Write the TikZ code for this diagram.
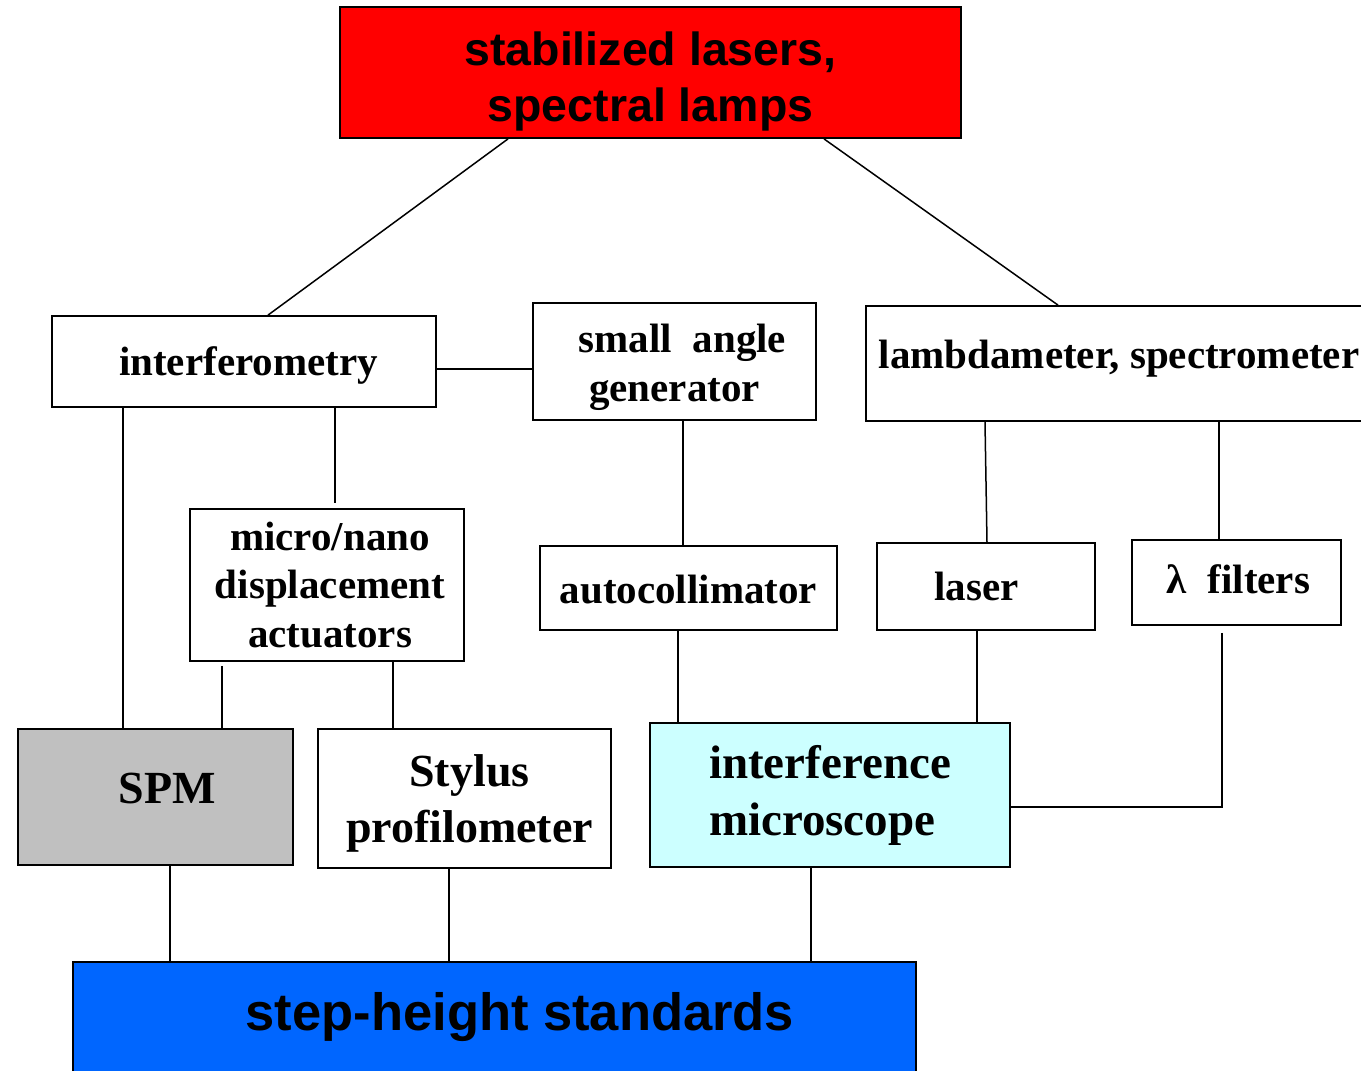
\documentclass[tikz,border=0pt]{standalone}
\usepackage{fontspec}
\setmainfont{Liberation Serif}
\newfontfamily\arialfam{Liberation Sans}
\definecolor{redbox}{RGB}{255,0,0}
\definecolor{graybox}{RGB}{192,192,192}
\definecolor{cyanbox}{RGB}{204,255,255}
\definecolor{bluebox}{RGB}{0,102,255}
\begin{document}
\begin{tikzpicture}[x=1pt,y=-1pt,
  box/.style={draw=black, line width=1.8pt, inner sep=0pt, align=center, fill=white},
  serifsmall/.style={font=\fontsize{41}{48.5}\selectfont\bfseries},
  conn/.style={draw=black, line width=1.5pt}]
\useasboundingbox (0,0) rectangle (1361,1071);
\clip (0,0) rectangle (1361,1071);
\fill[white] (0,0) rectangle (1361,1071);

% boxes
\node[box, fill=redbox, minimum width=621pt, minimum height=131pt,
      font=\fontsize{46.5}{56}\selectfont\arialfam\bfseries] (red) at (650.5,72.5)
      {\rule{0pt}{51pt}stabilized lasers,\\spectral lamps};
\node[box, serifsmall, minimum width=384pt, minimum height=91pt,
      text height=27pt, text depth=0pt] (interf) at (244,361.5)
      {\hspace*{9pt}interferometry};
\node[box, serifsmall, minimum width=283pt, minimum height=117pt,
      font=\fontsize{41}{49}\selectfont\bfseries] (small) at (674.5,361.5)
      {\rule{0pt}{40pt}\hspace*{16pt}small~~angle\\generator};
\node[box, serifsmall, minimum width=506pt, minimum height=115pt,
      text height=9pt, text depth=0pt] (lam) at (1119,363.5)
      {lambdameter, spectrometer};
\node[box, serifsmall, minimum width=274pt, minimum height=152pt] (micro) at (327,585)
      {\hspace*{6pt}micro/nano\\\hspace*{6pt}displacement\\\hspace*{6pt}actuators};
\node[box, serifsmall, minimum width=297pt, minimum height=84pt,
      text height=30pt, text depth=0pt] (auto) at (688.5,588)
      {autocollimator};
\node[box, serifsmall, minimum width=218pt, minimum height=87pt,
      text height=27pt, text depth=0pt] (laser) at (986,586.5)
      {laser\hspace*{19pt}};
\node[box, serifsmall, minimum width=209pt, minimum height=85pt,
      text height=21pt, text depth=0pt] (filt) at (1236.5,582.5)
      {\hspace*{4pt}λ~~filters};
\node[box, fill=graybox, minimum width=275pt, minimum height=136pt,
      font=\fontsize{46}{56}\selectfont\bfseries,
      text height=12pt, text depth=0pt] (spm) at (155.5,797)
      {\hspace*{24pt}SPM};
\node[box, minimum width=293pt, minimum height=139pt,
      font=\fontsize{46}{56}\selectfont\bfseries] (stylus) at (464.5,798.5)
      {\rule{0pt}{41pt}\hspace*{10pt}Stylus\\\hspace*{10pt}profilometer};
\node[box, fill=cyanbox, align=left, minimum width=360pt, minimum height=144pt,
      font=\fontsize{47}{57}\selectfont\bfseries] (im) at (830,795)
      {interference\\microscope};
\node[box, fill=bluebox, minimum width=843pt, minimum height=123pt,
      font=\fontsize{52.5}{60}\selectfont\arialfam\bfseries,
      text height=13pt, text depth=0pt] (step) at (494.5,1023.5)
      {\hspace*{51pt}step-height standards};

% connectors
\draw[conn] ([xshift=-142.5pt]red.south) -- ([xshift=24pt]interf.north);
\draw[conn] ([xshift=173.5pt]red.south) -- ([xshift=-61pt]lam.north);
\draw[conn] ([yshift=-7.5pt]interf.east) -- ([yshift=-7.5pt]small.west);
\draw[conn] ([xshift=-121pt]interf.south) -- ([xshift=-32.5pt]spm.north);
\draw[conn, shorten >=5pt] ([xshift=91pt]interf.south) -- ([xshift=8pt]micro.north);
\draw[conn] ([xshift=8.5pt]small.south) -- ([xshift=-5.5pt]auto.north);
\draw[conn] ([xshift=-134pt]lam.south) -- ([xshift=1pt]laser.north);
\draw[conn] ([xshift=100pt]lam.south) -- ([xshift=-17.5pt]filt.north);
\draw[conn, shorten <=4pt] ([xshift=-105pt]micro.south) -- ([xshift=66.5pt]spm.north);
\draw[conn] ([xshift=66pt]micro.south) -- ([xshift=-71.5pt]stylus.north);
\draw[conn] ([xshift=-10.5pt]auto.south) -- ([xshift=-152pt]im.north);
\draw[conn] ([xshift=-9pt]laser.south) -- ([xshift=147pt]im.north);
\draw[conn, shorten <=7pt] ([xshift=-14.5pt]filt.south) |- ([yshift=-12pt]im.east);
\draw[conn] ([xshift=14.5pt]spm.south) -- ([xshift=-324.5pt]step.north);
\draw[conn] ([xshift=-15.5pt]stylus.south) -- ([xshift=-45.5pt]step.north);
\draw[conn] ([xshift=-19pt]im.south) -- ([xshift=316.5pt]step.north);
\end{tikzpicture}
\end{document}
